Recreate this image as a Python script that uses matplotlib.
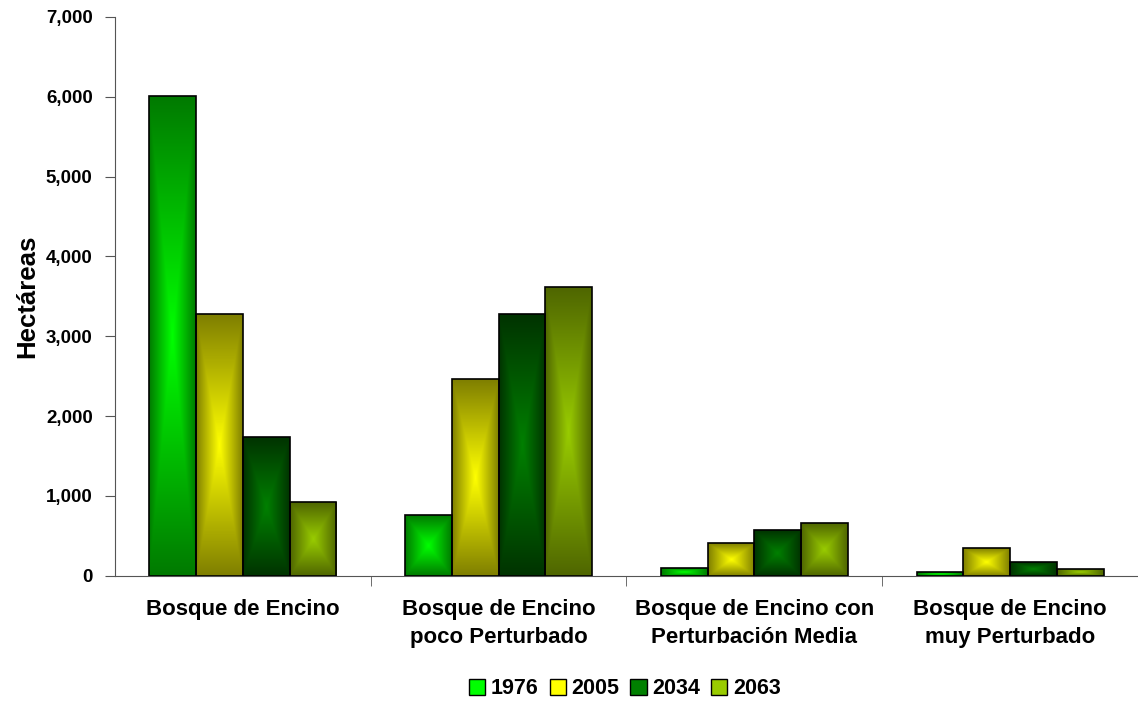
import numpy as np
import matplotlib
matplotlib.use("Agg")
import matplotlib.pyplot as plt
from matplotlib.colors import LinearSegmentedColormap
from matplotlib.patches import Rectangle
from matplotlib.ticker import FuncFormatter

## -- DATOS -- ##
categorias = ["Bosque de Encino", "Bosque de Encino\npoco Perturbado",
              "Bosque de Encino con\nPerturbación Media", "Bosque de Encino\nmuy Perturbado"]
anios = ["1976", "2005", "2034", "2063"]
v1976 = [6010, 764, 100, 41]
v2005 = [3280, 2467, 410, 347]
v2034 = [1740, 3280, 567, 167]
v2063 = [925, 3619, 655, 88]
series = [v1976, v2005, v2034, v2063]

# (centro, borde) del degradado de cada serie
colores = [("#00FF00", "#007A00"), ("#FFFF00", "#7F7F00"),
           ("#008000", "#003300"), ("#99CC00", "#4F6600")]

plt.rcParams['font.family'] = ['Liberation Sans', 'DejaVu Sans']
plt.rcParams['font.weight'] = 'bold'

fig = plt.figure(figsize=(11.38, 7.03), dpi=100)
ax = fig.add_axes([0.101, 0.181, 0.899, 0.795])

x = np.arange(len(categorias))
ancho = 0.183
offsets = (np.arange(4) - 1.5) * ancho

# degradado "desde el centro" (rectangular)
n = 200
u = np.linspace(-1, 1, n)
U, V = np.meshgrid(u, u)
T = np.maximum(np.abs(U), np.abs(V))

handles = []
for s, vals in enumerate(series):
    cmap = LinearSegmentedColormap.from_list("g%d" % s, [colores[s][0], colores[s][1]])
    bars = ax.bar(x + offsets[s], vals, ancho, facecolor="none",
                  edgecolor="black", linewidth=1.2, zorder=3)
    for b in bars:
        bx, by = b.get_x(), b.get_y()
        bw, bh = b.get_width(), b.get_height()
        im = ax.imshow(T, cmap=cmap, vmin=0, vmax=1, extent=[bx, bx + bw, by, by + bh],
                       aspect="auto", zorder=2, interpolation="bilinear")
        im.set_clip_path(Rectangle((bx, by), bw, bh, transform=ax.transData))
    handles.append(Rectangle((0, 0), 1, 1, facecolor=colores[s][0], edgecolor="black",
                             linewidth=1.0, label=anios[s]))

ax.set_xlim(-0.5, len(categorias) - 0.5)
ax.set_ylim(0, 7000)
ax.set_yticks(np.arange(0, 7001, 1000))
ax.yaxis.set_major_formatter(FuncFormatter(lambda v, p: "{:,.0f}".format(v)))
ax.set_xticks(x)
ax.set_xticklabels(categorias, fontsize=16, fontweight="bold", linespacing=1.4)
ax.set_xticks(np.arange(0.5, len(categorias) - 0.5), minor=True)
ax.tick_params(axis="x", which="major", length=0, pad=17)
ax.tick_params(axis="x", which="minor", length=7, color="#555555")
ax.tick_params(axis="y", length=7, color="#555555", labelsize=13.5, pad=9)
for lab in ax.get_yticklabels():
    lab.set_fontweight("bold")

for sp in ["top", "right"]:
    ax.spines[sp].set_visible(False)
ax.spines["left"].set_color("#555555")
ax.spines["bottom"].set_color("#555555")

ax.set_ylabel("Hectáreas", fontsize=18.5, fontweight="bold", labelpad=5)

fig.legend(handles=handles, loc="center", bbox_to_anchor=(625 / 1138, 1 - 689 / 703),
           ncol=4, frameon=False, handlelength=0.75, handleheight=0.75,
           handletextpad=0.28, columnspacing=0.5, prop={"weight": "bold", "size": 15.5})

fig.savefig("out.png", dpi=100)
